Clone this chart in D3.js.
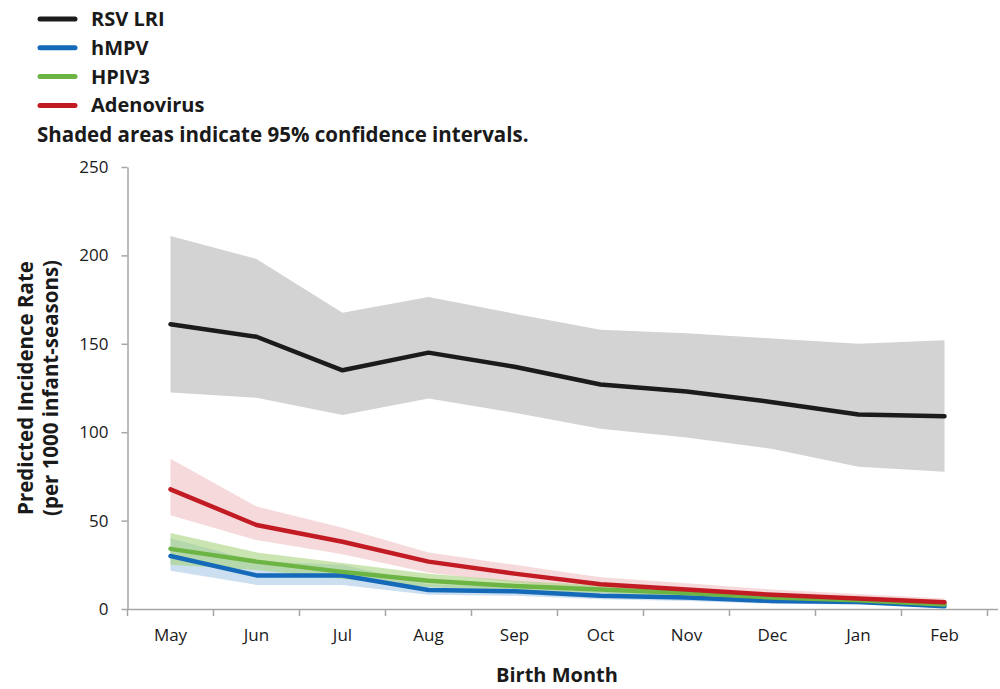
<!DOCTYPE html>
<html>
<head>
<meta charset="utf-8">
<script src="https://cdn.jsdelivr.net/npm/d3@7/dist/d3.min.js"></script>
<style>
  html, body { margin: 0; padding: 0; background: #fff; }
  svg { display: block; font-family: "Open Sans", "Noto Sans", sans-serif; }
</style>
</head>
<body>
<svg id="chart" width="1000" height="689"></svg>
<script>
// Birth months on the x axis
const months = ["May", "Jun", "Jul", "Aug", "Sep", "Oct", "Nov", "Dec", "Jan", "Feb"];
const yTicks = [0, 50, 100, 150, 200, 250];

// Predicted incidence per 1000 infant-seasons, with 95% CI bounds
const rsvRate  = [161, 154, 135, 145, 137, 127, 123, 117, 110, 109];
const rsvLow   = [122.5, 119.5, 109.7, 119, 111, 102, 97, 90.5, 80.5, 77.7];
const rsvHigh  = [211, 198, 167.6, 176.5, 167, 158, 156, 153, 150, 152];

const hmpvRate = [30, 19, 19, 10.7, 10, 7.5, 6.5, 4.5, 4, 1.5];
const hmpvLow  = [21.7, 13.6, 13.6, 8, 7.5, 5.5, 4.5, 3, 2.5, 0.8];
const hmpvHigh = [40, 27, 25, 14, 12.5, 10, 8.5, 6.5, 5.5, 2.5];

const hpivRate = [34, 26.8, 21, 16, 13, 11, 9, 6.5, 5, 2.5];
const hpivLow  = [25, 22, 17, 12.5, 10.5, 9, 7, 5, 3.8, 1.5];
const hpivHigh = [43, 32, 26, 20, 16, 13.5, 11, 8.5, 6.5, 3.5];

const adenoRate = [67.7, 47.5, 38, 26.8, 20, 14, 11, 8, 6, 3.8];
const adenoLow  = [53, 39, 31, 20.5, 15, 10.5, 8.5, 6, 4.5, 2.5];
const adenoHigh = [85, 58, 46, 32, 25, 18, 14.5, 11, 8.5, 6];

const seriesNames = ["RSV LRI", "hMPV", "HPIV3", "Adenovirus"];

const series = [
  { name: seriesNames[0], rate: rsvRate,   low: rsvLow,   high: rsvHigh,   line: "#1b1b1b", band: "#d3d3d3", bandOpacity: 1 },
  { name: seriesNames[3], rate: adenoRate, low: adenoLow, high: adenoHigh, line: "#c21b24", band: "#f2c9cb", bandOpacity: 0.7 },
  { name: seriesNames[1], rate: hmpvRate,  low: hmpvLow,  high: hmpvHigh,  line: "#1469b8", band: "#a9c9e8", bandOpacity: 0.6 },
  { name: seriesNames[2], rate: hpivRate,  low: hpivLow,  high: hpivHigh,  line: "#6cb443", band: "#a6d27e", bandOpacity: 0.6 }
];

const legendItems = [
  { name: seriesNames[0], color: "#1b1b1b" },
  { name: seriesNames[1], color: "#1469b8" },
  { name: seriesNames[2], color: "#6cb443" },
  { name: seriesNames[3], color: "#c21b24" }
];

const svg = d3.select("#chart");
const axisColor = "#a6a6a6";

const x = d3.scaleBand().domain(months).range([127.5, 987.5]);
const y = d3.scaleLinear().domain([0, 250]).range([609, 167]);
const cx = m => x(m) + x.bandwidth() / 2;

// Confidence bands
const area = d3.area()
  .x((d, i) => cx(months[i]))
  .y0(d => y(d[0]))
  .y1(d => y(d[1]));

series.forEach(s => {
  svg.append("path")
    .datum(s.low.map((v, i) => [v, s.high[i]]))
    .attr("d", area)
    .attr("fill", s.band)
    .attr("fill-opacity", s.bandOpacity);
});

// Axes
const yAxis = d3.axisLeft(y).tickValues(yTicks).tickSize(6).tickPadding(13).tickSizeOuter(0);
const gy = svg.append("g").attr("transform", "translate(127.5,0)").call(yAxis);
const xAxis = d3.axisBottom(x).tickSize(0).tickPadding(20).tickSizeOuter(0);
const gx = svg.append("g").attr("transform", "translate(0,609)").call(xAxis);

[gy, gx].forEach(g => {
  g.select(".domain").attr("stroke", axisColor).attr("stroke-width", 1.5);
  g.selectAll(".tick line").attr("stroke", axisColor).attr("stroke-width", 1.5);
  g.selectAll("text").attr("fill", "#1a1a1a").style("font-size", "17px").style("font-family", "'Open Sans', sans-serif");
});
gx.select(".domain").attr("d", "M127.5,0.5H998");

// x ticks sit on band edges
const edges = months.map(m => x(m)).concat([x(months[months.length - 1]) + x.bandwidth()]);
gx.selectAll(".edge").data(edges).enter().append("line")
  .attr("x1", d => d).attr("x2", d => d)
  .attr("y1", 0).attr("y2", 7)
  .attr("stroke", axisColor).attr("stroke-width", 1.5);

// Series lines
const line = d3.line().x((d, i) => cx(months[i])).y(d => y(d));
const drawOrder = [series[0], series[2], series[3], series[1]];
drawOrder.forEach(s => {
  svg.append("path")
    .datum(s.rate)
    .attr("d", line)
    .attr("fill", "none")
    .attr("stroke", s.line)
    .attr("stroke-width", 4.5)
    .attr("stroke-linejoin", "round")
    .attr("stroke-linecap", "round");
});

// Axis titles
svg.append("text")
  .attr("x", 557).attr("y", 682)
  .attr("text-anchor", "middle")
  .style("font-size", "20px").style("font-weight", "bold")
  .attr("fill", "#1a1a1a")
  .text("Birth Month");

const yt = svg.append("text")
  .attr("transform", "translate(0,388) rotate(-90)")
  .attr("text-anchor", "middle")
  .style("font-size", "20.5px").style("font-weight", "bold")
  .attr("fill", "#1a1a1a");
yt.append("tspan").attr("x", 0).attr("y", 33).text("Predicted Incidence Rate");
yt.append("tspan").attr("x", 0).attr("y", 58).text("(per 1000 infant-seasons)");

// Legend
const lg = svg.append("g");
legendItems.forEach((d, i) => {
  const ly = 19 + i * 28.8;
  lg.append("line")
    .attr("x1", 40).attr("x2", 75).attr("y1", ly).attr("y2", ly)
    .attr("stroke", d.color).attr("stroke-width", 5).attr("stroke-linecap", "round");
  lg.append("text")
    .attr("x", 91).attr("y", ly + 7)
    .style("font-size", "20px").style("font-weight", "bold")
    .attr("fill", "#1a1a1a")
    .text(d.name);
});
lg.append("text")
  .attr("x", 37).attr("y", 142)
  .style("font-size", "20.5px").style("font-weight", "bold")
  .attr("fill", "#1a1a1a")
  .text("Shaded areas indicate 95% confidence intervals.");
</script>
</body>
</html>
